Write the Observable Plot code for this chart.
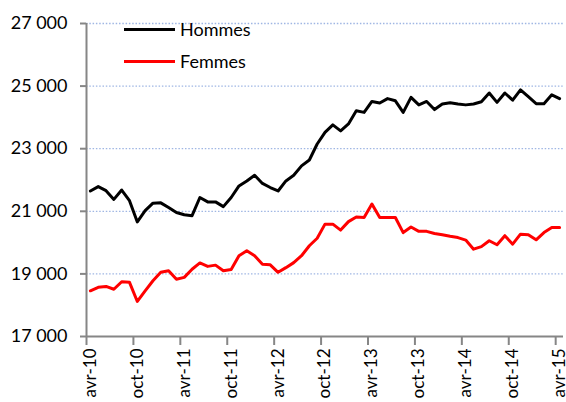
<!DOCTYPE html>
<html>
<head>
<meta charset="utf-8">
<script src="https://cdn.jsdelivr.net/npm/d3@7"></script>
<script src="https://cdn.jsdelivr.net/npm/@observablehq/plot@0.6"></script>
<style>
  html, body { margin: 0; padding: 0; background: #fff; }
  #wrap { position: relative; width: 566px; height: 402px; font-family: Lato, sans-serif; }
  #legend { position: absolute; left: 124px; top: 17px; font-size: 18px; color: #000; }
  .item { display: flex; align-items: center; height: 24px; margin-bottom: 8px; }
  .sw { width: 51px; height: 3px; margin-right: 5px; }
</style>
</head>
<body>
<div id="wrap"><div id="legend"></div></div>
<script>
// Monthly data, avr-10 .. avr-15 (61 months)
const hommes = [
  21650, 21790, 21660, 21380, 21680, 21340, 20660, 21020, 21260, 21270,
  21120, 20960, 20890, 20860, 21440, 21300, 21300, 21150, 21440, 21810,
  21970, 22150, 21890, 21760, 21650, 21970, 22150, 22450, 22640, 23150,
  23520, 23760, 23570, 23790, 24210, 24160, 24510, 24460, 24600, 24530,
  24160, 24640, 24400, 24510, 24250, 24430, 24470, 24430, 24400, 24430,
  24500, 24780, 24480, 24780, 24550, 24880, 24660, 24440, 24440, 24720,
  24600
];
const femmes = [
  18460, 18570, 18600, 18510, 18750, 18730, 18120, 18460, 18780, 19050,
  19100, 18830, 18890, 19150, 19350, 19240, 19280, 19100, 19140, 19580,
  19740, 19580, 19310, 19290, 19050, 19200, 19360, 19580, 19900, 20140,
  20590, 20590, 20400, 20670, 20820, 20800, 21230, 20800, 20800, 20800,
  20320, 20500, 20360, 20360, 20290, 20250, 20200, 20160, 20080, 19790,
  19870, 20060, 19930, 20220, 19950, 20270, 20250, 20090, 20320, 20480,
  20480
];
const seriesNames = ["Hommes", "Femmes"];
const seriesColors = ["#000000", "#ff0000"];
const tickLabels = ["avr-10", "oct-10", "avr-11", "oct-11", "avr-12", "oct-12",
                    "avr-13", "oct-13", "avr-14", "oct-14", "avr-15"];
const yTicks = [17000, 19000, 21000, 23000, 25000, 27000];

const rows = [];
[hommes, femmes].forEach((arr, s) => arr.forEach((v, i) => rows.push({i, v, s: seriesNames[s]})));

const labelPos = tickLabels.map((_, j) => j * 6);
const tickPos = labelPos.map(k => k - 0.5);
const fmt = v => d3.format(",")(v).replace(",", " ");

const chart = Plot.plot({
  width: 566,
  height: 402,
  marginLeft: 86,
  marginRight: 3,
  marginTop: 23,
  marginBottom: 66,
  style: {fontFamily: "Lato, sans-serif", fontSize: "18px", color: "#000", background: "#fff", overflow: "visible"},
  x: {domain: [-0.5, 60.5], axis: null},
  y: {domain: [17000, 27000], axis: null},
  color: {domain: seriesNames, range: seriesColors},
  marks: [
    Plot.ruleY(yTicks.filter(d => d > 17000), {stroke: "#9fb6e3", strokeWidth: 1.3, strokeDasharray: "1.5,1.8"}),
    Plot.lineY(rows, {x: "i", y: "v", z: "s", stroke: "s", strokeWidth: 3, strokeLinejoin: "round"}),
    Plot.axisY({ticks: yTicks, tickFormat: fmt, tickSize: 6, tickPadding: 13, stroke: "#868686", strokeWidth: 2, fill: "#000", label: null}),
    Plot.ruleX([-0.5], {stroke: "#868686", strokeWidth: 2}),
    Plot.ruleY([17000], {stroke: "#868686", strokeWidth: 2}),
    Plot.axisX({ticks: tickPos, tickFormat: () => "", tickSize: 9, stroke: "#868686", strokeWidth: 2, label: null}),
    Plot.axisX({ticks: labelPos, tickSize: 0, tickFormat: d => tickLabels[labelPos.indexOf(d)], tickRotate: -90, tickPadding: 12, fontSize: 17, fill: "#000", label: null})
  ]
});
document.getElementById("wrap").prepend(chart);

const legend = document.getElementById("legend");
seriesNames.forEach((n, s) => {
  const it = document.createElement("div");
  it.className = "item";
  it.innerHTML = `<div class="sw" style="background:${seriesColors[s]}"></div><span>${n}</span>`;
  legend.appendChild(it);
});
</script>
</body>
</html>
